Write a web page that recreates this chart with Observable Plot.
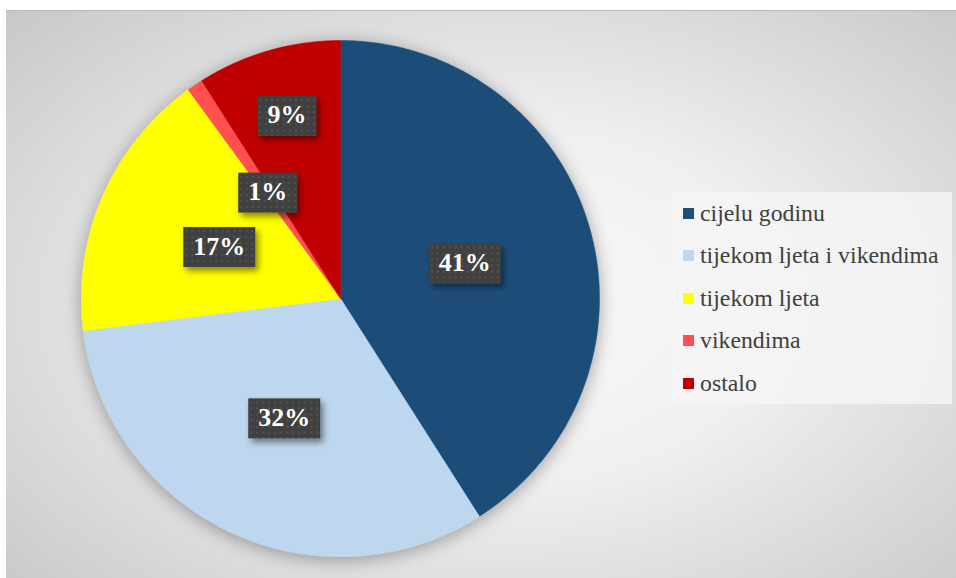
<!DOCTYPE html>
<html>
<head>
<meta charset="utf-8">
<script src="https://cdn.jsdelivr.net/npm/d3@7"></script>
<script src="https://cdn.jsdelivr.net/npm/@observablehq/plot@0.6"></script>
<style>
html, body { margin: 0; padding: 0; background: #ffffff; }
#wrap { position: relative; width: 956px; height: 578px; overflow: hidden; background: #ffffff; }
#frame { position: absolute; left: 6px; top: 10px; width: 950px; height: 568px;
  background: radial-gradient(ellipse 75% 80% at 52% 52%, #fbfbfb 0%, #efefef 40%, #c4c4c4 100%);
  border-top: 1px solid #b8b8b8; box-sizing: border-box; }
#chart { position: absolute; left: 0; top: 0; }
#legend { position: absolute; left: 671px; top: 192px; width: 281px; height: 212px;
  background: rgba(244,244,244,0.85); }
.item { position: absolute; left: 0; height: 30px; display: flex; align-items: center;
  font-family: "Liberation Serif", "Times New Roman", serif; font-size: 23.8px; color: #404040; white-space: nowrap; }
.sw { width: 11px; height: 11px; margin-left: 12px; margin-right: 6px; flex: none; }
</style>
</head>
<body>
<div id="wrap">
  <div id="frame"></div>
  <div id="chart"></div>
  <div id="legend"></div>
</div>
<script>
const categories = ["cijelu godinu", "tijekom ljeta i vikendima", "tijekom ljeta", "vikendima", "ostalo"];
const shares = [41, 32, 17, 1, 9];
const labels = ["41%", "32%", "17%", "1%", "9%"];
const colors = ["#1f4e79", "#bdd7ee", "#ffff00", "#ff5050", "#c00000"];

const data = categories.map((c, i) => ({cat: c, share: shares[i], label: labels[i]}));
const arcs = d3.pie().sort(null).value(d => d.share)(data);

// slice polygons in unit-circle data coordinates
const points = [];
for (const a of arcs) {
  const n = Math.max(2, Math.ceil((a.endAngle - a.startAngle) / (Math.PI / 360)));
  points.push({cat: a.data.cat, x: 0, y: 0});
  for (let k = 0; k <= n; k++) {
    const t = a.startAngle + (a.endAngle - a.startAngle) * k / n;
    points.push({cat: a.data.cat, x: Math.sin(t), y: Math.cos(t)});
  }
  points.push({cat: a.data.cat, x: 0, y: 0});
}

// label anchors (best-fit style: small last slice label placed further out)
const labelRadius = [0.5, 0.51, 0.51, 0.5, 0.74];
const labelData = arcs.map((a, i) => {
  const m = (a.startAngle + a.endAngle) / 2;
  return {label: a.data.label, x: labelRadius[i] * Math.sin(m), y: labelRadius[i] * Math.cos(m)};
});

const chart = Plot.plot({
  width: 956,
  height: 578,
  marginLeft: 81,
  marginRight: 357,
  marginTop: 40,
  marginBottom: 22,
  x: {domain: [-1, 1], axis: null},
  y: {domain: [-1, 1], axis: null},
  color: {domain: categories, range: colors},
  style: {background: "transparent", overflow: "visible"},
  marks: [
    Plot.line(points, {x: "x", y: "y", z: "cat", fill: "cat", stroke: "cat", strokeWidth: 0.5, curve: "linear"}),
    Plot.text(labelData, {x: "x", y: "y", text: "label", fill: "white", fontSize: 26, fontWeight: "bold",
      fontFamily: "Liberation Serif, Times New Roman, serif"})
  ]
});
document.getElementById("chart").appendChild(chart);

// effects: pie shadow, label boxes with dotted texture
const svg = d3.select(chart);
const defs = svg.insert("defs", ":first-child");
const f1 = defs.append("filter").attr("id", "pieShadow").attr("x", "-20%").attr("y", "-20%").attr("width", "140%").attr("height", "140%");
f1.append("feDropShadow").attr("dx", 0).attr("dy", 3).attr("stdDeviation", 9).attr("flood-color", "#000").attr("flood-opacity", 0.35);
const f2 = defs.append("filter").attr("id", "boxShadow").attr("x", "-30%").attr("y", "-30%").attr("width", "160%").attr("height", "160%");
f2.append("feDropShadow").attr("dx", 3).attr("dy", 4).attr("stdDeviation", 3).attr("flood-color", "#000").attr("flood-opacity", 0.45);
const pat = defs.append("pattern").attr("id", "dots").attr("width", 6).attr("height", 6).attr("patternUnits", "userSpaceOnUse");
pat.append("rect").attr("width", 6).attr("height", 6).attr("fill", "#404040");
pat.append("circle").attr("cx", 3).attr("cy", 3).attr("r", 1.1).attr("fill", "#565656");

svg.select('g[aria-label="line"]').attr("filter", "url(#pieShadow)");
const textGroup = svg.select('g[aria-label="text"]');
textGroup.selectAll("text").each(function() {
  const bb = this.getBBox();
  const cx = bb.x + bb.width / 2;
  const tf = this.getAttribute("transform");
  const ty = bb.y + bb.height / 2;
  const w = bb.width + 20, h = 40;
  const r = d3.select(this.parentNode).insert("rect", () => this)
    .attr("x", cx - w / 2).attr("y", ty - h / 2 + 1).attr("width", w).attr("height", h)
    .attr("fill", "url(#dots)").attr("filter", "url(#boxShadow)");
  if (tf) r.attr("transform", tf);
});

// legend
const legend = document.getElementById("legend");
categories.forEach((c, i) => {
  const row = document.createElement("div");
  row.className = "item";
  row.style.top = (6 + i * 42.5) + "px";
  const sw = document.createElement("span");
  sw.className = "sw";
  sw.style.background = colors[i];
  const tx = document.createElement("span");
  tx.textContent = c;
  row.appendChild(sw);
  row.appendChild(tx);
  legend.appendChild(row);
});
</script>
</body>
</html>
